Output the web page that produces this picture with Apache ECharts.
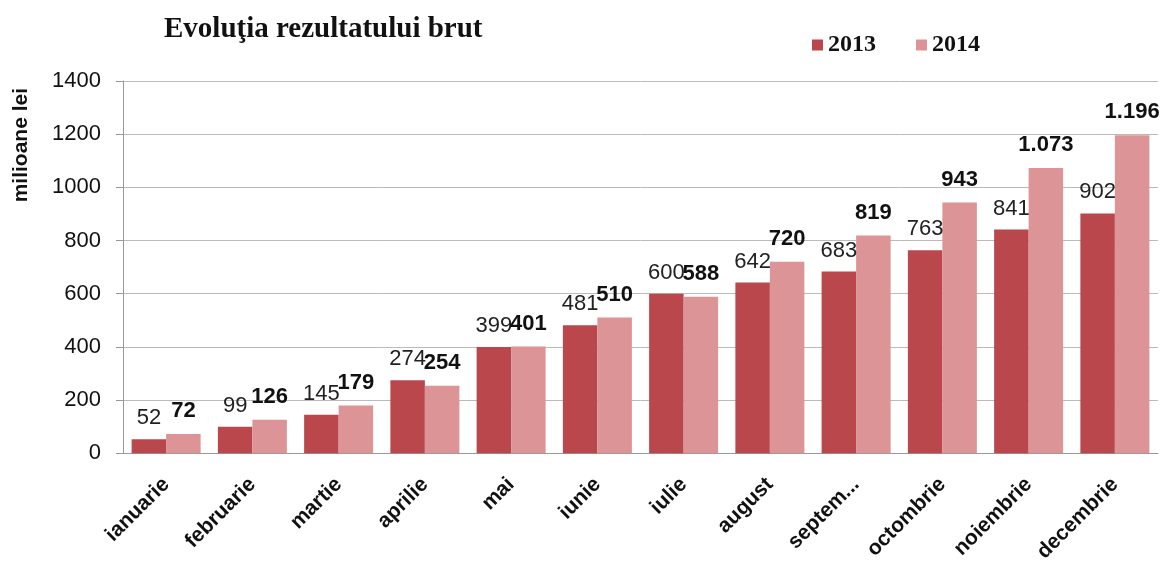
<!DOCTYPE html>
<html><head><meta charset="utf-8">
<script src="https://cdn.jsdelivr.net/npm/echarts@6/dist/echarts.min.js"></script>
<style>html,body{margin:0;padding:0;background:#fff}#c{width:1171px;height:565px}</style>
</head><body><div id="c"></div>
<script>
const categories = ['ianuarie','februarie','martie','aprilie','mai','iunie','iulie','august','septem...','octombrie','noiembrie','decembrie'];
const values2013 = [52, 99, 145, 274, 399, 481, 600, 642, 683, 763, 841, 902];
const values2014 = [72, 126, 179, 254, 401, 510, 588, 720, 819, 943, 1073, 1196];
const yTicks = [0, 200, 400, 600, 800, 1000, 1200, 1400];

const fmt = v => String(v).replace(/\B(?=(\d{3})+(?!\d))/g, '.');
const chart = echarts.init(document.getElementById('c'));
chart.setOption({
  animation: false,
  title: {
    text: 'Evoluţia rezultatului brut', left: 159, top: 10,
    textStyle: {fontFamily: 'Liberation Serif', fontWeight: 'bold', fontSize: 29, color: '#111'}
  },
  legend: {
    left: 807, top: 28, itemWidth: 11, itemHeight: 11, itemGap: 40, icon: 'rect',
    textStyle: {fontFamily: 'Liberation Serif', fontWeight: 'bold', fontSize: 24, color: '#111'},
    data: ['2013', '2014']
  },
  graphic: [{
    type: 'text', left: 11, top: 88,
    rotation: Math.PI / 2,
    style: {text: 'milioane lei', fontFamily: 'Liberation Sans', fontWeight: 'bold', fontSize: 21, fill: '#111'}
  }],
  grid: {left: 123, right: 13, top: 81, bottom: 111},
  xAxis: {
    type: 'category', data: categories,
    axisLine: {lineStyle: {color: '#999'}},
    axisTick: {show: false},
    axisLabel: {rotate: 45, margin: 28, interval: 0, fontFamily: 'Liberation Sans', fontWeight: 'bold', fontSize: 21, color: '#111'}
  },
  yAxis: {
    type: 'value', min: 0, max: 1400, interval: 200,
    axisLine: {show: true, lineStyle: {color: '#999'}},
    axisTick: {show: true, length: 7, lineStyle: {color: '#999'}},
    splitLine: {lineStyle: {color: '#bbb'}},
    axisLabel: {margin: 22, fontFamily: 'Liberation Sans', fontSize: 22, color: '#111',
      formatter: v => yTicks.includes(v) ? String(v) : ''}
  },
  series: [
    {name: '2013', type: 'bar', data: values2013, barGap: '0%', barCategoryGap: '20%',
     itemStyle: {color: '#b9474b'},
     label: {show: true, position: 'top', distance: 10, fontFamily: 'Liberation Sans', fontSize: 22, color: '#222', formatter: p => fmt(p.value)}},
    {name: '2014', type: 'bar', data: values2014,
     itemStyle: {color: '#dc9496'},
     label: {show: true, position: 'top', distance: 12, fontFamily: 'Liberation Sans', fontWeight: 'bold', fontSize: 22, color: '#111', formatter: p => fmt(p.value)}}
  ]
});
</script></body></html>
